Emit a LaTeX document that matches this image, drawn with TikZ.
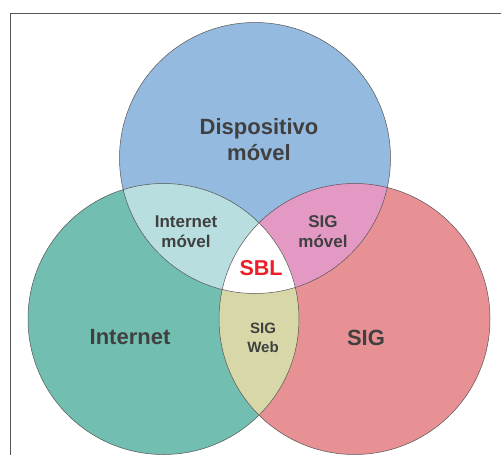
\documentclass[tikz,border=0pt]{standalone}
\usepackage{fontspec}
\setmainfont{Liberation Sans}
\usetikzlibrary{positioning}

\definecolor{dispblue}{RGB}{148,186,223}
\definecolor{intgreen}{RGB}{114,190,177}
\definecolor{sigred}{RGB}{232,145,149}
\definecolor{intmovel}{RGB}{184,222,223}
\definecolor{sigmovel}{RGB}{228,153,196}
\definecolor{sigweb}{RGB}{216,215,168}
\definecolor{sblred}{RGB}{237,30,40}
\definecolor{txtgray}{RGB}{64,64,64}
\definecolor{edgegray}{RGB}{85,85,85}

\begin{document}
\begin{tikzpicture}[x=1pt,y=-1pt,
	setedge/.style={draw=edgegray, line width=0.5pt},
	biglabel/.style={font=\bfseries\fontsize{22}{26}\selectfont, text=txtgray, align=center},
	midlabel/.style={font=\bfseries\fontsize{17}{20}\selectfont, text=txtgray, align=center},
	smalllabel/.style={font=\bfseries\fontsize{15}{19}\selectfont, text=txtgray, align=center}]
	\useasboundingbox (0,0) rectangle (501,455);
	\fill[white] (0,0) rectangle (501,455);
	\draw[edgegray, line width=0.8pt] (10.7,455) -- (10.7,13) -- (501,13);

	\coordinate (1D) at (255,158); \coordinate (1I) at (163.5,319); \coordinate (1S) at (354.5,319);
	\def\rad{135.5pt}

	\fill[dispblue] (1D) circle (\rad); \fill[intgreen] (1I) circle (\rad); \fill[sigred] (1S) circle (\rad);
	\begin{scope} \clip (1D) circle (\rad); \fill[intmovel] (1I) circle (\rad); \end{scope}
	\begin{scope} \clip (1D) circle (\rad); \fill[sigmovel] (1S) circle (\rad); \end{scope}
	\begin{scope} \clip (1I) circle (\rad); \fill[sigweb] (1S) circle (\rad); \end{scope}
	\begin{scope} \clip (1D) circle (\rad); \clip (1I) circle (\rad); \fill[white] (1S) circle (\rad); \end{scope}
	\draw[setedge] (1D) circle (\rad); \draw[setedge] (1I) circle (\rad); \draw[setedge] (1S) circle (\rad);

	\node[biglabel] at (259,140) (2disp) {Dispositivo\\móvel};
	\node[biglabel] at (130,337) (2int) {Internet};
	\node[biglabel] at (366,338) (2sig) {SIG};
	\node[midlabel] at (186,232) (3intmov) {Internet\\móvel};
	\node[midlabel] at (323,232) (3sigmov) {SIG\\móvel};
	\node[smalllabel] at (263,338) (3sigweb) {SIG\\Web};
	\node[font=\bfseries\fontsize{21.5}{26}\selectfont, text=sblred] at (261,268) (4sbl) {SBL};
\end{tikzpicture}
\end{document}
